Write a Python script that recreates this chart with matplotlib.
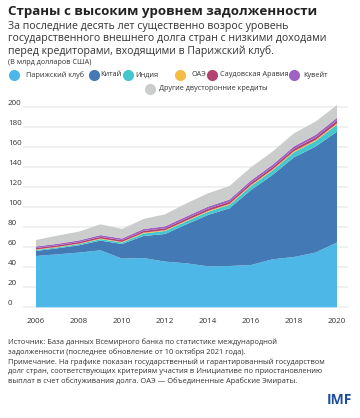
import matplotlib
matplotlib.use("Agg")
import matplotlib.pyplot as plt
import matplotlib.transforms as mtransforms
from matplotlib.lines import Line2D

plt.rcParams['font.family'] = ['Open Sans', 'DejaVu Sans']

# data (bn USD)
years = list(range(2006, 2021))
paris_club = [51.3, 53.0, 54.7, 57.0, 48.7, 49.3, 45.7, 44.0, 41.0, 41.3, 42.3, 48.0, 50.3, 54.7, 65.0]
china = [5.0, 6.0, 7.3, 9.7, 14.6, 22.0, 27.6, 39.0, 51.3, 57.7, 75.0, 84.3, 99.7, 106.0, 110.7]
india = [1.0, 1.0, 1.2, 1.5, 1.5, 2.5, 3.0, 3.0, 3.2, 3.5, 4.0, 4.5, 5.0, 5.5, 7.0]
uae = [0.5, 0.5, 0.5, 0.6, 0.6, 0.8, 0.8, 0.8, 0.9, 0.9, 1.0, 1.0, 1.1, 1.1, 1.2]
saudi = [1.5, 1.5, 1.6, 1.7, 1.7, 1.8, 1.9, 2.0, 2.1, 2.2, 2.3, 2.3, 2.4, 2.5, 2.8]
kuwait = [1.5, 1.5, 1.6, 1.7, 1.7, 1.9, 2.0, 2.1, 2.1, 2.2, 2.3, 2.4, 2.5, 2.6, 2.8]
other = [6.5, 8.2, 8.8, 10.8, 9.5, 10.0, 12.0, 13.1, 13.4, 13.5, 13.1, 13.2, 13.0, 13.3, 12.8]

series = [paris_club, china, india, uae, saudi, kuwait, other]
labels = ["Парижский клуб", "Китай", "Индия", "ОАЭ", "Саудовская Аравия", "Кувейт",
          "Другие двусторонние кредиты"]
colors = ["#4db8e8", "#4379b4", "#45c7cf", "#f6bb45", "#b2426f", "#9d62c4", "#cbcccc"]

yticks = [0, 20, 40, 60, 80, 100, 120, 140, 160, 180, 200]
xticks = [2006, 2008, 2010, 2012, 2014, 2016, 2018, 2020]

W, H = 360, 418
fig = plt.figure(figsize=(W / 100, H / 100), dpi=100)

# axes placed in pixel terms
ax_left, ax_right, ax_top, ax_bot = 23, 348, 102, 309
ax = fig.add_axes([ax_left / W, 1 - ax_bot / H, (ax_right - ax_left) / W, (ax_bot - ax_top) / H])
ax.stackplot(years, *series, colors=colors, linewidth=0)
ax.set_xlim(2006 - 13 / 21.5, 2020 + 11 / 21.5)
ax.set_ylim(-1.7, 205.3)
for s in ax.spines.values():
    s.set_visible(False)
ax.set_yticks(yticks)
ax.yaxis.grid(True, color="#eeeeee", linewidth=1.2)
ax.set_axisbelow(True)
ax.tick_params(left=False, bottom=False, labelleft=False)
ax.set_xticks(xticks)
ax.set_xticklabels([str(x) for x in xticks], fontsize=5.8, color="#333333")
ax.tick_params(axis="x", pad=3)

# y tick labels, left aligned above gridlines
trans = mtransforms.blended_transform_factory(fig.transFigure, ax.transData)
for v in yticks:
    ax.text(8 / W, v, str(v), transform=trans, fontsize=5.8, color="#333333",
            ha="left", va="bottom")

# titles
fig.text(8 / W, 1 - 12 / H, "Страны с высоким уровнем задолженности", fontsize=9.6,
         fontweight="bold", color="#222222", va="center", ha="left")
sub = ("За последние десять лет существенно возрос уровень\n"
       "государственного внешнего долга стран с низкими доходами\n"
       "перед кредиторами, входящими в Парижский клуб.")
fig.text(8 / W, 1 - 21 / H, sub, fontsize=7.6, color="#333333", va="top", ha="left",
         linespacing=1.12)
fig.text(8 / W, 1 - 62 / H, "(В млрд долларов США)", fontsize=5.2, color="#333333",
         va="center", ha="left")

# legend drawn by hand
leg_row1 = [(14, 26), (94, 100), (128, 135), (180, 191), (212, 220), (294, 303)]
for i, (cx, tx) in enumerate(leg_row1):
    fig.add_artist(Line2D([cx / W], [1 - 75 / H], marker="o", markersize=7,
                          color=colors[i], linestyle="none"))
    fig.text(tx / W, 1 - 75 / H, labels[i], fontsize=5.2, color="#333333",
             va="center", ha="left")
fig.add_artist(Line2D([150 / W], [1 - 89 / H], marker="o", markersize=7,
                      color=colors[6], linestyle="none"))
fig.text(159 / W, 1 - 89 / H, labels[6], fontsize=5.2, color="#333333",
         va="center", ha="left")

# footer
foot = ("Источник: База данных Всемирного банка по статистике международной\n"
        "задолженности (последнее обновление от 10 октября 2021 года).\n"
        "Примечание. На графике показан государственный и гарантированный государством\n"
        "долг стран, соответствующих критериям участия в Инициативе по приостановлению\n"
        "выплат в счет обслуживания долга. ОАЭ — Объединенные Арабские Эмираты.")
fig.text(8 / W, 1 - 338 / H, foot, fontsize=5.4, color="#333333", va="top", ha="left",
         linespacing=1.45)
fig.text(352 / W, 1 - 400 / H, "IMF", fontsize=10, fontweight="bold", color="#1f4e9c",
         va="center", ha="right")

fig.savefig("out.png", dpi=100)
